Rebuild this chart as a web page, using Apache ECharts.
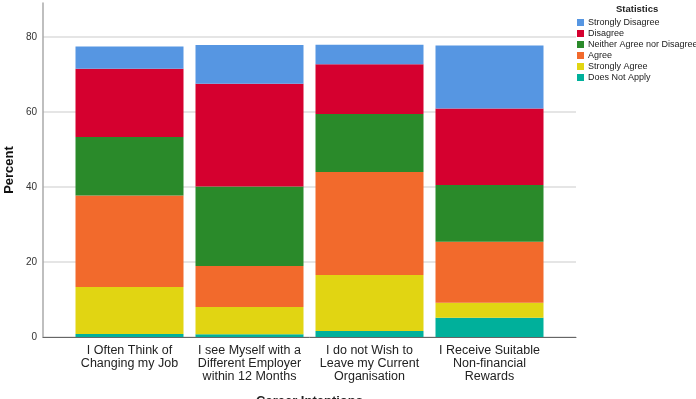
<!DOCTYPE html>
<html>
<head>
<meta charset="utf-8">
<script src="https://cdn.jsdelivr.net/npm/echarts@6/dist/echarts.min.js"></script>
<style>
  html, body { margin: 0; padding: 0; background: #fff; }
  #main { width: 696px; height: 399px; }
</style>
</head>
<body>
<div id="main"></div>
<script>
const categories = [
  'I Often Think of\nChanging my Job',
  'I see Myself with a\nDifferent Employer\nwithin 12 Months',
  'I do not Wish to\nLeave my Current\nOrganisation',
  'I Receive Suitable\nNon-financial\nRewards'
]
// percent per response, bottom of stack first
const doesNotApply = [0.8, 0.7, 1.6, 5.1]
const stronglyAgree = [12.5, 7.3, 14.9, 4.0]
const agree = [24.4, 10.9, 27.5, 16.3]
const neither = [15.6, 21.2, 15.4, 15.1]
const disagree = [18.2, 27.4, 13.3, 20.4]
const stronglyDisagree = [5.9, 10.3, 5.2, 16.8]
const yTicks = [0, 20, 40, 60, 80]

const font = 'Liberation Sans, Arial, sans-serif'
const yMax = 89

const seriesDefs = [
  { name: 'Does Not Apply', data: doesNotApply, color: '#00b09b' },
  { name: 'Strongly Agree', data: stronglyAgree, color: '#e1d512' },
  { name: 'Agree', data: agree, color: '#f26a2c' },
  { name: 'Neither Agree nor Disagree', data: neither, color: '#2a8a2a' },
  { name: 'Disagree', data: disagree, color: '#d5002f' },
  { name: 'Strongly Disagree', data: stronglyDisagree, color: '#5696e2' }
]

const chart = echarts.init(document.getElementById('main'))

const option = {
  animation: false,
  title: {
    text: 'Statistics',
    left: 616,
    top: 4,
    padding: 0,
    textStyle: { fontFamily: font, fontSize: 9.5, fontWeight: 'bold', color: '#222' }
  },
  legend: {
    orient: 'vertical',
    left: 577,
    top: 18,
    padding: 0,
    itemWidth: 7,
    itemHeight: 7,
    itemGap: 2,
    icon: 'rect',
    data: ['Strongly Disagree', 'Disagree', 'Neither Agree nor Disagree', 'Agree', 'Strongly Agree', 'Does Not Apply'],
    textStyle: { fontFamily: font, fontSize: 9, lineHeight: 9, color: '#222', padding: [0, 0, 0, -1] }
  },
  grid: [
    { left: 43, right: 120, top: 3, bottom: 62, containLabel: false, outerBoundsMode: 'none' },
    { left: 69.5, right: 146.5, top: 3, bottom: 62, containLabel: false, outerBoundsMode: 'none' }
  ],
  xAxis: [
    {
      gridIndex: 0,
      type: 'value',
      min: 0,
      max: 1,
      axisLine: { show: true, lineStyle: { color: '#666', width: 1 } },
      axisTick: { show: false },
      axisLabel: { show: false },
      splitLine: { show: false }
    },
    {
      gridIndex: 1,
      type: 'category',
      data: categories,
      axisLine: { show: false },
      axisTick: { show: false },
      axisLabel: {
        interval: 0,
        margin: 7,
        fontFamily: font,
        fontSize: 12.5,
        lineHeight: 13,
        color: '#222'
      },
      name: 'Career Intentions',
      nameLocation: 'middle',
      nameGap: 58,
      nameMoveOverlap: false,
      nameTextStyle: { fontFamily: font, fontSize: 13, fontWeight: 'bold', color: '#222' }
    }
  ],
  yAxis: [
    {
      gridIndex: 0,
      type: 'value',
      min: 0,
      max: yMax,
      interval: 20,
      axisLine: { show: true, lineStyle: { color: '#aaa', width: 1.5 } },
      axisTick: { show: false },
      axisLabel: {
        margin: 6,
        fontFamily: font,
        fontSize: 10,
        color: '#333',
        showMaxLabel: false,
        formatter: v => (yTicks.indexOf(v) >= 0 ? String(v) : '')
      },
      splitLine: {
        show: true,
        lineStyle: { color: ['#dcdcdc', '#dcdcdc', '#dcdcdc', '#dcdcdc', '#dcdcdc', 'rgba(0,0,0,0)'], width: 1.5 }
      },
      name: 'Percent',
      nameLocation: 'middle',
      nameGap: 27,
      nameRotate: 90,
      nameMoveOverlap: false,
      nameTextStyle: { fontFamily: font, fontSize: 13, fontWeight: 'bold', color: '#111' }
    },
    {
      gridIndex: 1,
      type: 'value',
      min: 0,
      max: yMax,
      show: false
    }
  ],
  series: seriesDefs.map(s => ({
    name: s.name,
    type: 'bar',
    stack: 'total',
    xAxisIndex: 1,
    yAxisIndex: 1,
    barCategoryGap: '10%',
    itemStyle: { color: s.color },
    data: s.data
  }))
}

chart.setOption(option)
</script>
</body>
</html>
